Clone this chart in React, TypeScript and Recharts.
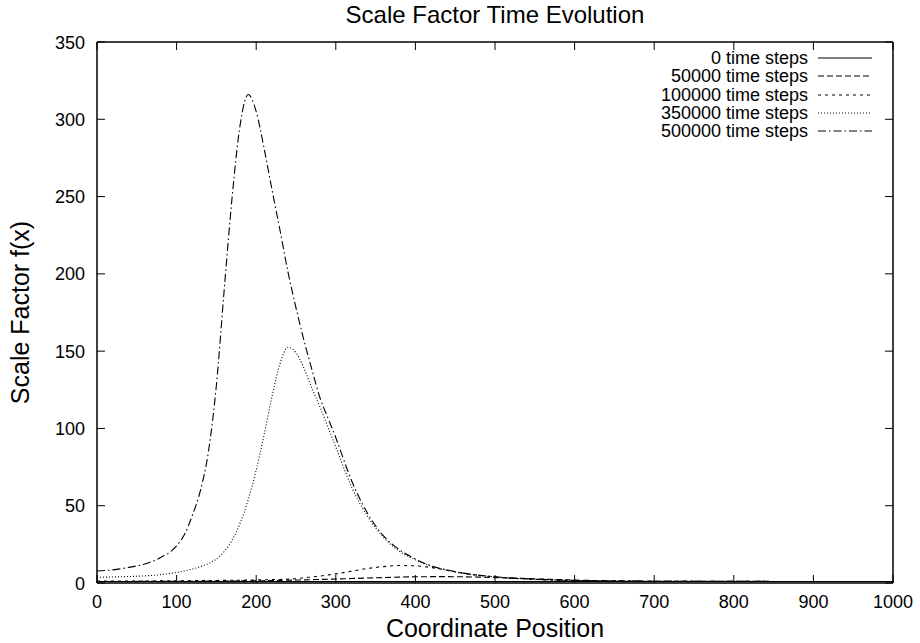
import React from 'react';
import { LineChart, Line, XAxis, YAxis, Legend } from 'recharts';

const POSITIONS = [
  0, 20, 40, 60, 80, 100, 110, 120, 130, 140, 150, 160, 170, 180, 190, 200, 210, 220, 230, 240,
  250, 260, 270, 280, 290, 300, 320, 340, 360, 380, 400, 420, 440, 460, 480, 500, 550, 600, 650,
  700, 800, 900, 1000,
];

const STEPS_0 = POSITIONS.map(() => 1);

const STEPS_50K = [
  1.0, 1.0, 1.0, 1.05, 1.05, 1.1, 1.1, 1.15, 1.15, 1.2, 1.2, 1.25, 1.3, 1.35, 1.4, 1.45, 1.5, 1.6, 1.7, 1.8,
  1.9, 2.0, 2.15, 2.3, 2.45, 2.6, 2.9, 3.2, 3.5, 3.8, 4.0, 4.1, 4.1, 4.0, 3.8, 3.5, 2.7, 1.9, 1.4,
  1.15, 1.05, 1.0, 1.0,
];

const STEPS_100K = [
  1.2, 1.2, 1.25, 1.3, 1.35, 1.4, 1.45, 1.5, 1.55, 1.6, 1.65, 1.7, 1.75, 1.8, 1.9, 2.0, 2.1, 2.2, 2.3, 2.5,
  2.8, 3.3, 3.9, 4.5, 5.2, 5.9, 7.7, 9.4, 10.6, 11.3, 11.1, 10.0, 8.2, 6.3, 4.9, 3.9, 2.3, 1.5, 1.2,
  1.1, 1.0, 1.0, 1.0,
];

const STEPS_350K = [
  3.7, 3.9, 4.2, 4.6, 5.4, 6.8, 7.8, 9.1, 10.6, 12.6, 15.5, 20.5, 28, 39, 54, 73, 96, 121, 142, 152.5,
  149, 139, 126, 114, 101, 88, 62, 43, 29.5, 20.5, 15, 10.8, 8.2, 6.3, 5, 4, 2.4, 1.6, 1.3,
  1.15, 1.05, 1.0, 1.0,
];

const STEPS_500K = [
  7.8, 8.5, 10.1, 12.3, 16.5, 24, 31.5, 44, 60, 85, 128, 191, 251, 297, 316, 305, 281, 254, 228, 201,
  178, 157, 138, 120, 107, 94, 66, 45, 30.5, 21.5, 15.5, 11, 8.4, 6.4, 5, 4, 2.5, 1.7, 1.3,
  1.15, 1.05, 1.0, 1.0,
];

const X_TICKS = [0, 100, 200, 300, 400, 500, 600, 700, 800, 900, 1000];
const Y_TICKS = [0, 50, 100, 150, 200, 250, 300, 350];

const SERIES = [
  { key: 's0', name: '0 time steps', values: STEPS_0, dash: undefined },
  { key: 's50k', name: '50000 time steps', values: STEPS_50K, dash: '6 3' },
  { key: 's100k', name: '100000 time steps', values: STEPS_100K, dash: '3 4' },
  { key: 's350k', name: '350000 time steps', values: STEPS_350K, dash: '1 2' },
  { key: 's500k', name: '500000 time steps', values: STEPS_500K, dash: '8 3 1.5 3' },
];

const data = POSITIONS.map((x, i) => {
  const row: Record<string, number> = { x };
  SERIES.forEach((s) => {
    row[s.key] = s.values[i];
  });
  return row;
});

const FONT = '"Liberation Sans", Arial, Helvetica, sans-serif';
const TICK_LEN = 8;
const GAP = 12;

// gnuplot style: tick marks point into the plot, labels sit outside
const BottomTick = (props: any) => {
  const { x, y, payload } = props;
  return (
    <g>
      <line x1={x} y1={y - GAP} x2={x} y2={y - GAP - TICK_LEN} stroke="#000" strokeWidth={1} />
      <text x={x} y={y + 13} textAnchor="middle" style={{ fontFamily: FONT, fontSize: 18, fill: '#000' }}>
        {payload.value}
      </text>
    </g>
  );
};

const LeftTick = (props: any) => {
  const { x, y, payload } = props;
  return (
    <g>
      <line x1={x + GAP} y1={y} x2={x + GAP + TICK_LEN} y2={y} stroke="#000" strokeWidth={1} />
      <text x={x} y={y + 6.5} textAnchor="end" style={{ fontFamily: FONT, fontSize: 18, fill: '#000' }}>
        {payload.value}
      </text>
    </g>
  );
};

const TopTick = (props: any) => {
  const { x, y } = props;
  return <line x1={x} y1={y + GAP} x2={x} y2={y + GAP + TICK_LEN} stroke="#000" strokeWidth={1} />;
};

const RightTick = (props: any) => {
  const { x, y } = props;
  return <line x1={x - GAP} y1={y} x2={x - GAP - TICK_LEN} y2={y} stroke="#000" strokeWidth={1} />;
};

const GnuLegend = () => (
  <div style={{ fontFamily: FONT, fontSize: 18, color: '#000' }}>
    {SERIES.map((s) => (
      <div key={s.key} style={{ display: 'flex', alignItems: 'center', height: 18.3 }}>
        <span style={{ width: 208, textAlign: 'right', lineHeight: '18px' }}>{s.name}</span>
        <svg width={64} height={10} style={{ marginLeft: 10 }}>
          <line x1={0} y1={5} x2={54} y2={5} stroke="#000" strokeWidth={1} strokeDasharray={s.dash} />
        </svg>
      </div>
    ))}
  </div>
);

const axisLine = { stroke: '#000', strokeWidth: 1.5 };

export default function App() {
  return (
    <div style={{ position: 'absolute', left: 0, top: 0, width: 920, height: 643, background: '#fff' }}>
      <LineChart width={920} height={643} data={data} margin={{ top: 22, right: 7, bottom: 20, left: 0 }}>
        <XAxis
          xAxisId="b"
          dataKey="x"
          type="number"
          domain={[0, 1000]}
          ticks={X_TICKS}
          height={40}
          tick={<BottomTick />}
          tickSize={0}
          tickMargin={GAP}
          tickLine={false}
          axisLine={axisLine}
          label={{ value: 'Coordinate Position', position: 'insideBottom', offset: -14, style: { fontFamily: FONT, fontSize: 25, fill: '#000' } }}
        />
        <XAxis
          xAxisId="t"
          orientation="top"
          dataKey="x"
          type="number"
          domain={[0, 1000]}
          ticks={X_TICKS}
          height={20}
          tick={<TopTick />}
          tickSize={0}
          tickMargin={GAP}
          tickLine={false}
          axisLine={axisLine}
        />
        <YAxis
          yAxisId="l"
          type="number"
          domain={[0, 350]}
          ticks={Y_TICKS}
          width={97}
          tick={<LeftTick />}
          tickSize={0}
          tickMargin={GAP}
          tickLine={false}
          axisLine={axisLine}
          label={{ value: 'Scale Factor f(x)', angle: -90, position: 'insideLeft', offset: 20, style: { fontFamily: FONT, fontSize: 25, fill: '#000', textAnchor: 'middle' } }}
        />
        <YAxis
          yAxisId="r"
          orientation="right"
          type="number"
          domain={[0, 350]}
          ticks={Y_TICKS}
          width={20}
          tick={<RightTick />}
          tickSize={0}
          tickMargin={GAP}
          tickLine={false}
          axisLine={axisLine}
        />
        <Legend
          layout="vertical"
          align="center"
          verticalAlign="middle"
          wrapperStyle={{ left: 600, top: 49, width: 290 }}
          content={() => <GnuLegend />}
        />
        {/* invisible series so the mirrored top/right axes get drawn */}
        <Line
          xAxisId="t"
          yAxisId="r"
          dataKey="s0"
          stroke="none"
          dot={false}
          activeDot={false}
          legendType="none"
          isAnimationActive={false}
        />
        {SERIES.map((s) => (
          <Line
            key={s.key}
            xAxisId="b"
            yAxisId="l"
            type="monotone"
            dataKey={s.key}
            name={s.name}
            stroke="#000"
            strokeWidth={1.1}
            strokeDasharray={s.dash}
            dot={false}
            activeDot={false}
            isAnimationActive={false}
          />
        ))}
        <text x={495} y={23} textAnchor="middle" style={{ fontFamily: FONT, fontSize: 24, fill: '#000' }}>
          Scale Factor Time Evolution
        </text>
      </LineChart>
    </div>
  );
}
